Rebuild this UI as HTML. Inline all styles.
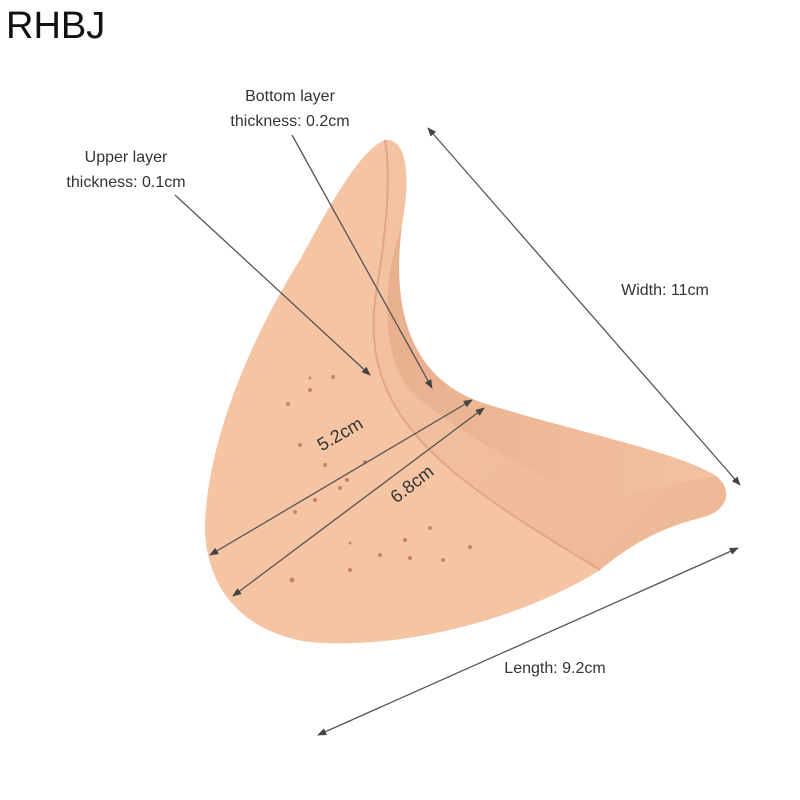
<!DOCTYPE html>
<html><head><meta charset="utf-8"><style>
html,body{margin:0;padding:0;background:#fff}
svg{display:block}
text{font-family:"Liberation Sans",sans-serif;fill:#333}
</style></head><body>
<svg width="800" height="800" viewBox="0 0 800 800" xmlns="http://www.w3.org/2000/svg">
<defs>
<marker id="a" viewBox="0 0 10 10" refX="9" refY="5" markerWidth="7" markerHeight="7" orient="auto-start-reverse"><path d="M0,1 L10,5 L0,9 z" fill="#444"/></marker>
<linearGradient id="g1" x1="0" y1="0" x2="1" y2="1"><stop offset="0" stop-color="#f6c7a6"/><stop offset="1" stop-color="#edb694"/></linearGradient>
<linearGradient id="g2" x1="0" y1="0" x2="1" y2="0"><stop offset="0" stop-color="#e9b08e"/><stop offset="1" stop-color="#f3c2a2"/></linearGradient>
</defs>
<text x="6" y="38" font-size="38" style="fill:#111">RHBJ</text>
<!-- back layer / silhouette -->
<path d="M385,140 C405,138 412,170 402,225 C392,300 405,375 480,402 C560,428 680,452 716,476 C734,490 728,512 700,518 C660,528 630,545 600,570 C520,620 400,650 310,642 C240,632 205,585 205,525 C208,440 250,340 300,260 C330,205 360,150 385,140 Z" fill="url(#g1)"/>
<!-- inner cup -->
<path d="M402,225 C392,300 405,375 480,402 C560,428 680,452 716,476 C690,480 640,490 600,505 C530,470 450,430 410,390 C380,355 382,280 402,225 Z" fill="url(#g2)"/>
<!-- front layer -->
<path d="M385,140 C392,180 385,240 375,300 C368,360 385,410 440,460 C490,505 560,545 600,570 C520,620 400,650 310,642 C240,632 205,585 205,525 C208,440 250,340 300,260 C330,205 360,150 385,140 Z" fill="#f5c4a3"/>
<path d="M385,140 C392,180 385,240 375,300 C368,360 385,410 440,460 C490,505 560,545 600,570" fill="none" stroke="#e2a686" stroke-width="2"/>
<g fill="#c98466">
<circle cx="288" cy="404" r="2"/><circle cx="310" cy="390" r="2"/><circle cx="333" cy="377" r="2"/><circle cx="310" cy="378" r="1.5"/>
<circle cx="300" cy="445" r="2"/><circle cx="325" cy="465" r="2"/><circle cx="347" cy="480" r="2"/><circle cx="365" cy="462" r="2"/>
<circle cx="295" cy="512" r="2"/><circle cx="315" cy="500" r="2"/><circle cx="340" cy="488" r="2"/>
<circle cx="350" cy="570" r="2"/><circle cx="380" cy="555" r="2"/><circle cx="405" cy="540" r="2"/><circle cx="430" cy="528" r="2"/>
<circle cx="410" cy="558" r="2"/><circle cx="443" cy="560" r="2"/><circle cx="470" cy="547" r="2"/><circle cx="350" cy="543" r="1.5"/>
<circle cx="292" cy="580" r="2.5"/>
</g>
<g stroke="#555" stroke-width="1.3" fill="none">
<line x1="175" y1="195" x2="370" y2="375" marker-end="url(#a)"/>
<line x1="292" y1="135" x2="432" y2="388" marker-end="url(#a)"/>
<line x1="428" y1="128" x2="740" y2="485" marker-start="url(#a)" marker-end="url(#a)"/>
<line x1="210" y1="555" x2="472" y2="400" marker-start="url(#a)" marker-end="url(#a)"/>
<line x1="233" y1="596" x2="484" y2="408" marker-start="url(#a)" marker-end="url(#a)"/>
<line x1="318" y1="735" x2="738" y2="548" marker-start="url(#a)" marker-end="url(#a)"/>
</g>
<g font-size="16" text-anchor="middle">
<text x="290" y="101">Bottom layer</text>
<text x="290" y="126">thickness: 0.2cm</text>
<text x="126" y="162">Upper layer</text>
<text x="126" y="187">thickness: 0.1cm</text>
<text x="665" y="295">Width: 11cm</text>
<text x="555" y="673">Length: 9.2cm</text>
<text x="340" y="440" transform="rotate(-30 340 434)" font-size="18">5.2cm</text>
<text x="412" y="490" transform="rotate(-38 412 484)" font-size="18">6.8cm</text>
</g>
</svg>
</body></html>
